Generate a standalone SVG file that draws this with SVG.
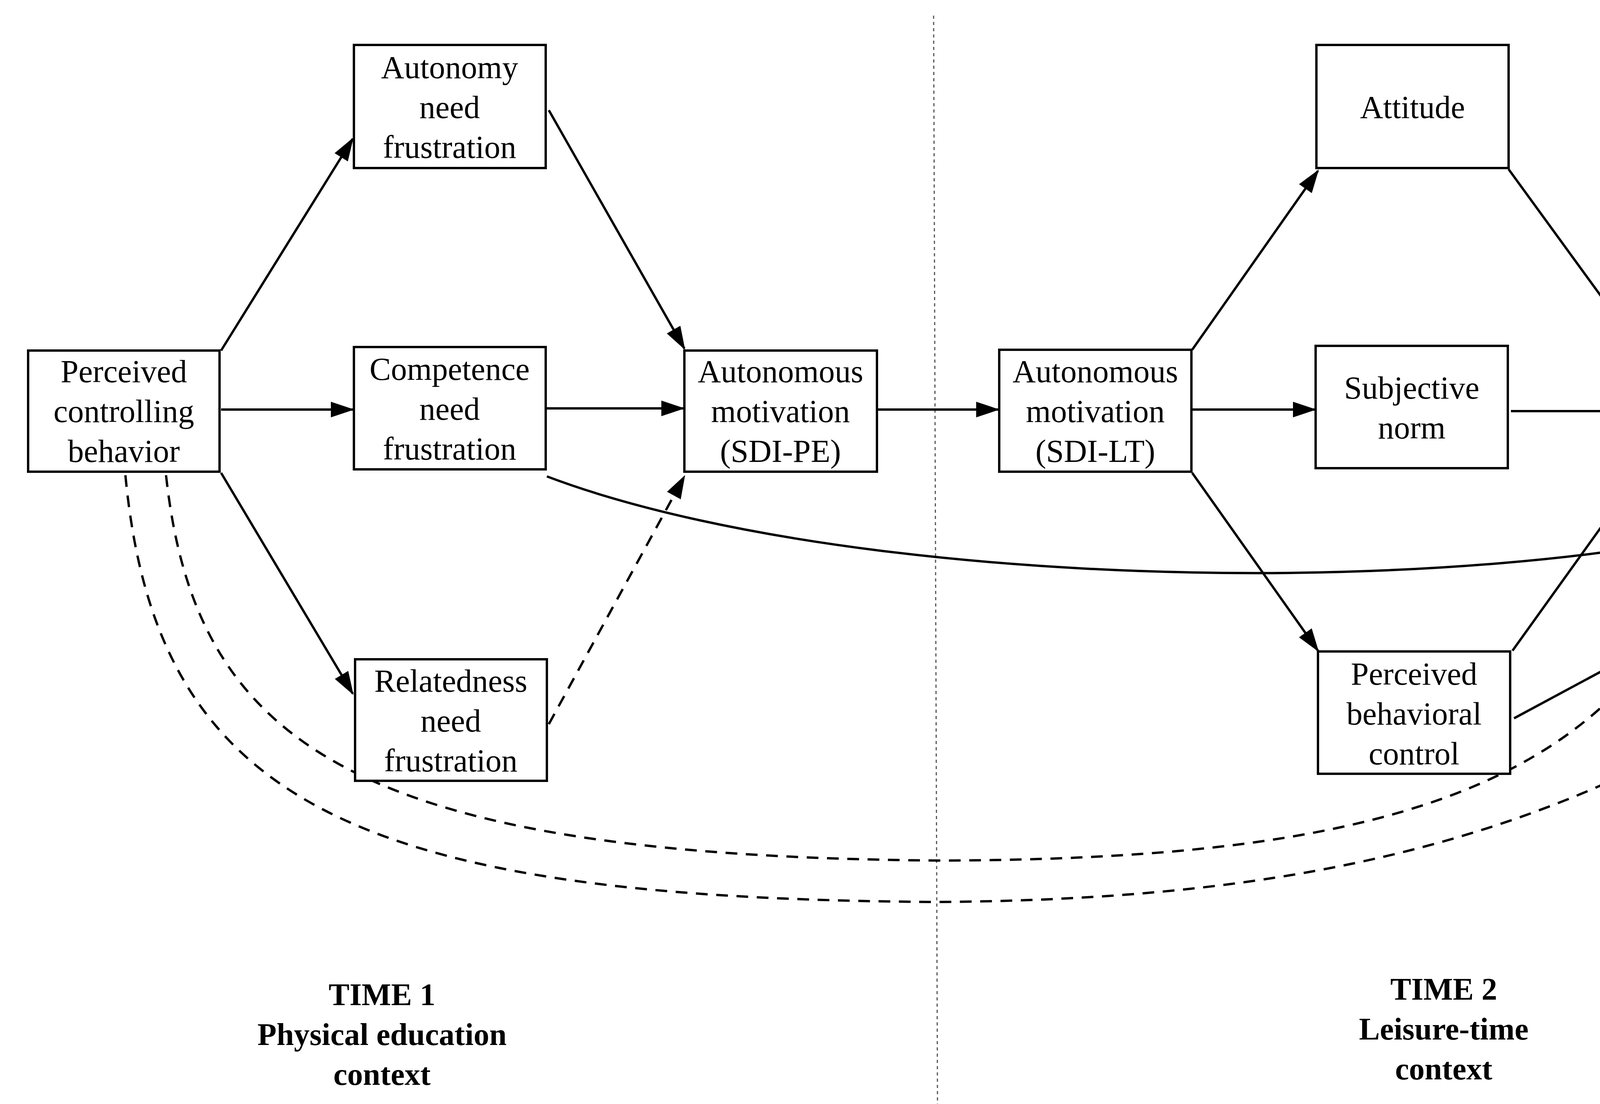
<svg xmlns="http://www.w3.org/2000/svg" width="5615" height="2825" viewBox="0 0 5615 2825">
<style>
.b{fill:#fff;stroke:#000;stroke-width:6}
.t{font-family:"Liberation Serif",serif;font-size:82px;text-anchor:middle;fill:#000}
.h{font-family:"Liberation Serif",serif;font-size:80px;font-weight:bold;text-anchor:middle;fill:#000}
.c{fill:none;stroke:#000;stroke-width:6;marker-end:url(#a)}
.d{stroke-dasharray:30 22}
.v{fill:none;stroke:#555;stroke-width:3;stroke-dasharray:8 8}
</style>
<defs><marker id="a" markerUnits="userSpaceOnUse" markerWidth="60" markerHeight="40" refX="56" refY="20" orient="auto"><path d="M0,0 L60,20 L0,40 z" fill="#000"/></marker></defs>
<rect width="5615" height="2825" fill="#fff"/>
<g id="dividers"><line class="v" x1="2390" y1="40" x2="2400" y2="2825"/><line class="v" x1="4853" y1="50" x2="4880" y2="2825"/></g>
<g id="connectors">
<path class="c" d="M566,897 L903,355"/>
<path class="c" d="M1405,282 L1752,892"/>
<path class="c" d="M566,1048 L903,1048"/>
<path class="c" d="M1400,1045 L1749,1045"/>
<path class="c" d="M566,1210 L903,1775"/>
<path class="c d" d="M1405,1853 L1752,1219"/>
<path class="c" d="M2245,1048 L2555,1048"/>
<path class="c" d="M1400,1219 C2300,1560 4400,1560 5024,1147"/>
<path class="c d" d="M321,1216 C400,2050 900,2300 2400,2308 C3700,2300 4400,2000 5250,1216"/>
<path class="c d" d="M425,1216 C500,1900 900,2190 2400,2202 C3600,2200 4250,2000 4430,1210"/>
<path class="c" d="M3052,895 L3374,437"/>
<path class="c" d="M3052,1048 L3366,1048"/>
<path class="c" d="M3052,1210 L3374,1665"/>
<path class="c" d="M3862,433 L4192,886"/>
<path class="c" d="M3868,1052 L4190,1052"/>
<path class="c" d="M3872,1665 L4192,1219"/>
<path class="c" d="M3876,1838 L5028,1219"/>
<path class="c" d="M4700,1052 L5026,1052"/>
</g>
<g id="n1"><rect class="b" x="72" y="897" width="490" height="310"/><text class="t" x="317" y="978">Perceived</text><text class="t" x="317" y="1080">controlling</text><text class="t" x="317" y="1182">behavior</text></g>
<g id="n2"><rect class="b" x="906" y="115" width="491" height="315"/><text class="t" x="1151" y="200">Autonomy</text><text class="t" x="1151" y="302">need</text><text class="t" x="1151" y="404">frustration</text></g>
<g id="n3"><rect class="b" x="906" y="888" width="491" height="313"/><text class="t" x="1151" y="972">Competence</text><text class="t" x="1151" y="1074">need</text><text class="t" x="1151" y="1176">frustration</text></g>
<g id="n4"><rect class="b" x="909" y="1687" width="491" height="311"/><text class="t" x="1154" y="1770">Relatedness</text><text class="t" x="1154" y="1872">need</text><text class="t" x="1154" y="1974">frustration</text></g>
<g id="n5"><rect class="b" x="1752" y="897" width="493" height="310"/><text class="t" x="1998" y="978">Autonomous</text><text class="t" x="1998" y="1080">motivation</text><text class="t" x="1998" y="1182">(SDI-PE)</text></g>
<g id="n6"><rect class="b" x="2558" y="895" width="492" height="312"/><text class="t" x="2804" y="978">Autonomous</text><text class="t" x="2804" y="1080">motivation</text><text class="t" x="2804" y="1182">(SDI-LT)</text></g>
<g id="n7"><rect class="b" x="3370" y="115" width="492" height="315"/><text class="t" x="3616" y="302">Attitude</text></g>
<g id="n8"><rect class="b" x="3368" y="885" width="492" height="313"/><text class="t" x="3614" y="1020">Subjective</text><text class="t" x="3614" y="1122">norm</text></g>
<g id="n9"><rect class="b" x="4194" y="888" width="492" height="313"/><text class="t" x="4440" y="1074">Intention</text></g>
<g id="n10"><rect class="b" x="3374" y="1667" width="492" height="313"/><text class="t" x="3620" y="1752">Perceived</text><text class="t" x="3620" y="1854">behavioral</text><text class="t" x="3620" y="1956">control</text></g>
<g id="n11"><rect class="b" x="5028" y="895" width="492" height="312"/><text class="t" x="5274" y="1030">Physical</text><text class="t" x="5274" y="1132">activity</text></g>
<g id="labels">
<text class="h" x="978" y="2572">TIME 1</text><text class="h" x="978" y="2674">Physical education</text><text class="h" x="978" y="2776">context</text>
<text class="h" x="3696" y="2558">TIME 2</text><text class="h" x="3696" y="2660">Leisure-time</text><text class="h" x="3696" y="2762">context</text>
<text class="h" x="5280" y="2567">TIME 3</text><text class="h" x="5280" y="2669">Leisure-time</text><text class="h" x="5280" y="2771">physical activity</text>
</g>
</svg>
